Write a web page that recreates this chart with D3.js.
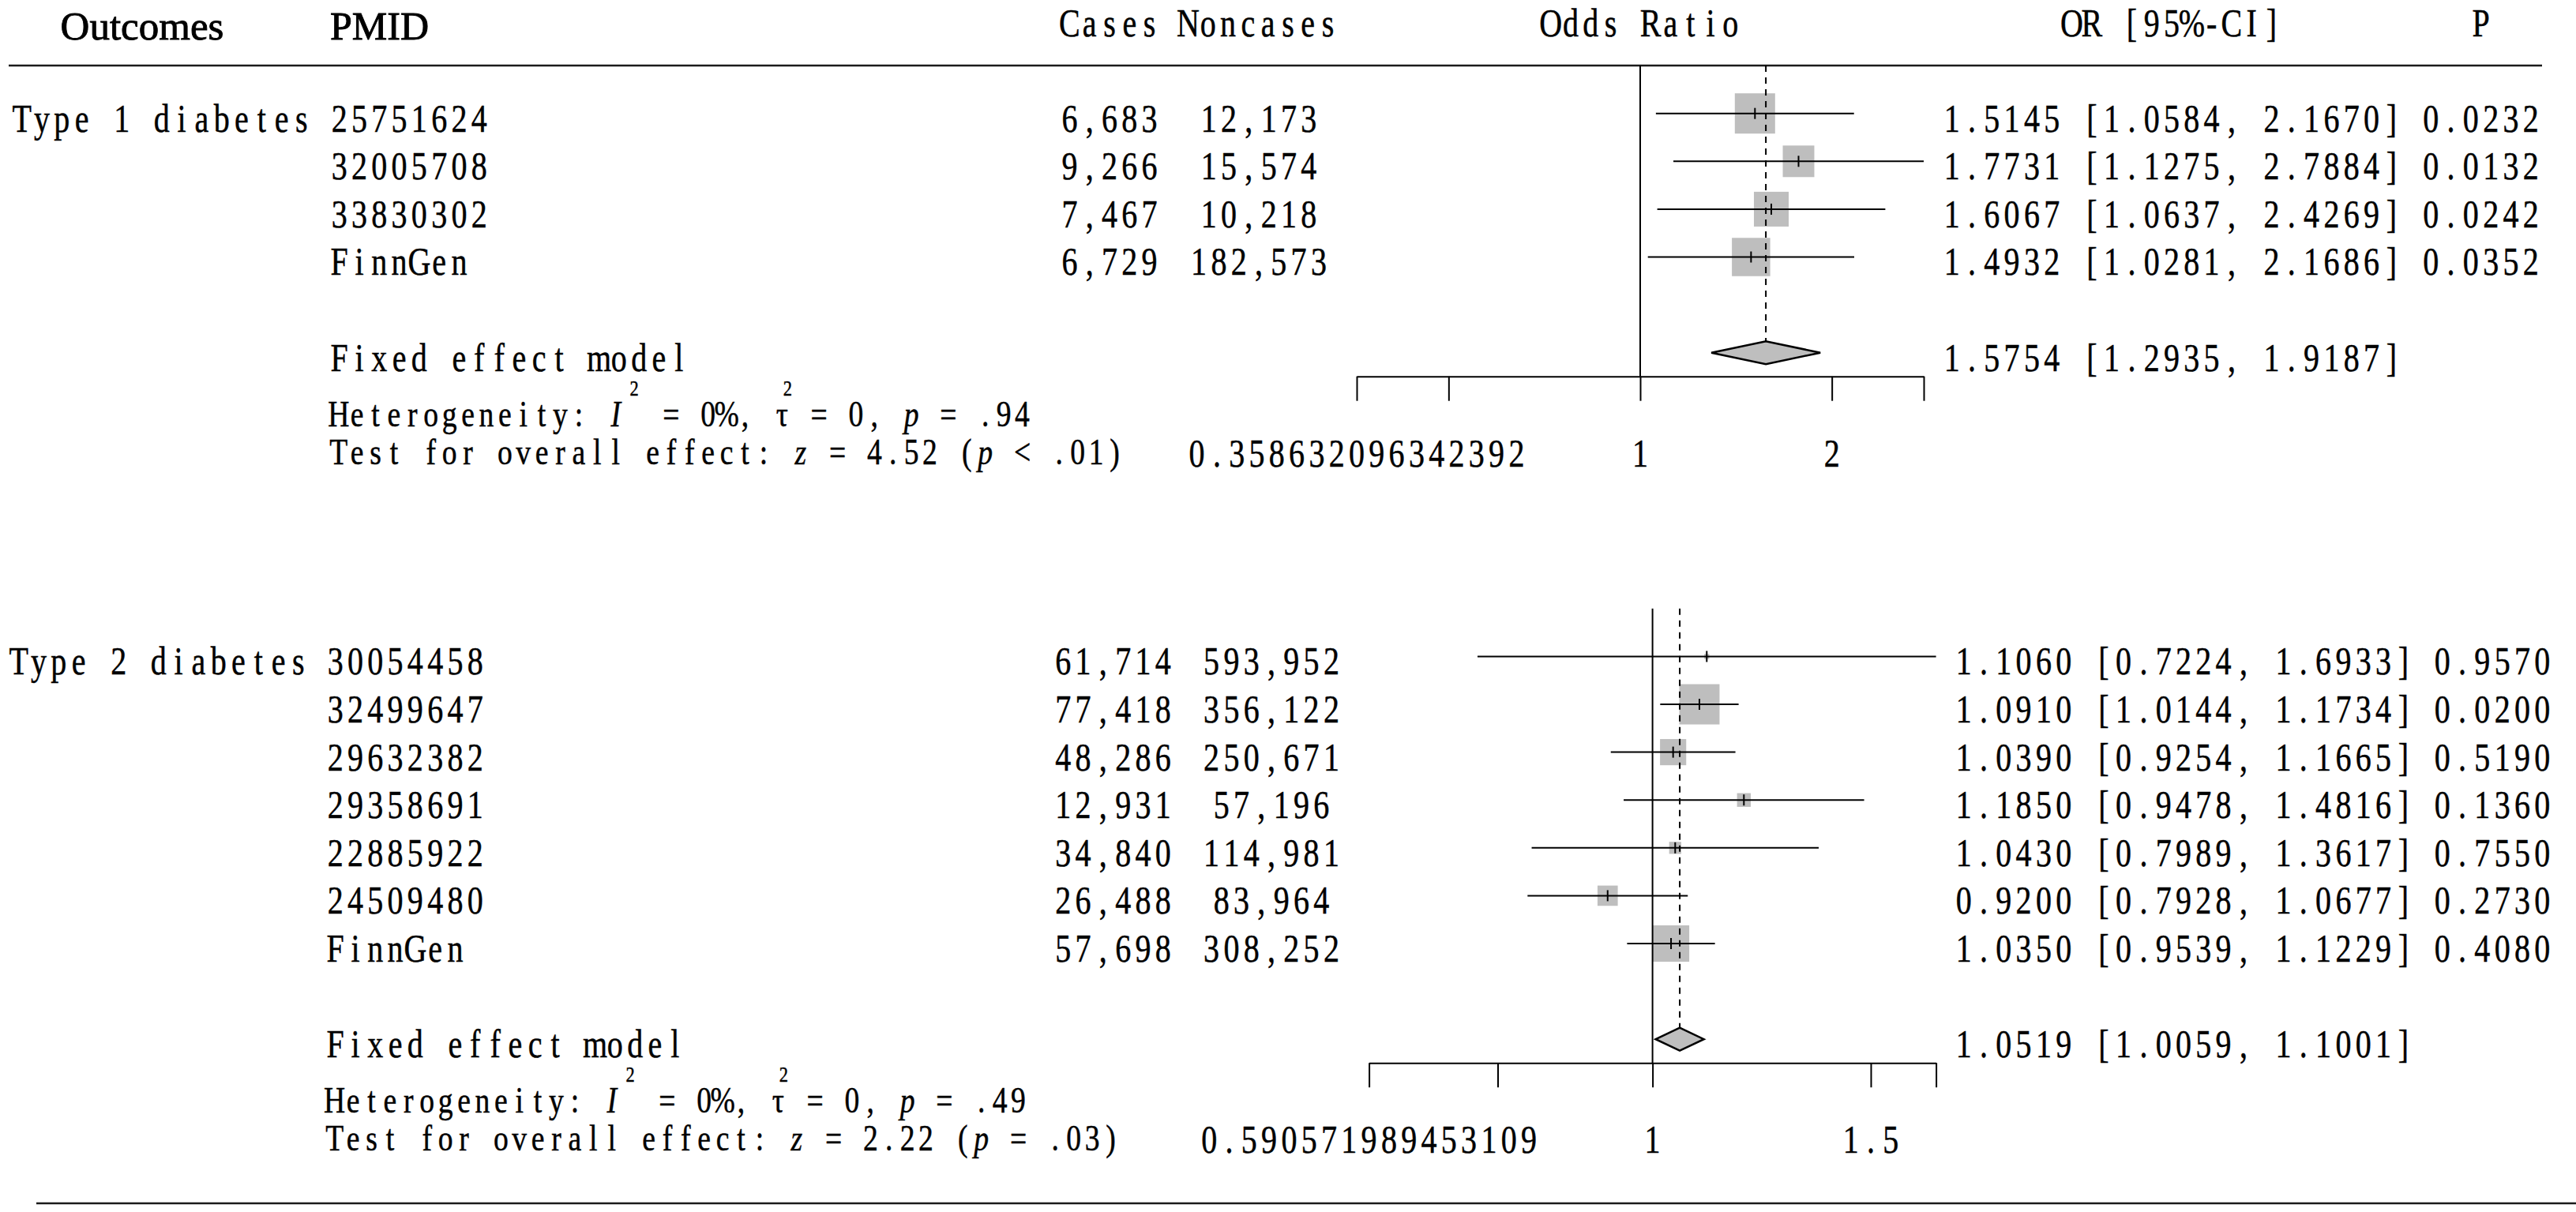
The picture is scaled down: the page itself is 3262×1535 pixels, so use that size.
<!DOCTYPE html>
<html>
<head>
<meta charset="utf-8">
<script src="https://cdn.jsdelivr.net/npm/d3@7"></script>
<style>
  html, body { margin: 0; padding: 0; background: #fff; }
  svg { display: block; }
  text { font-family: 'Liberation Serif', serif; fill: #000; stroke: #000; stroke-width: 0.5px; }
  text.head { stroke-width: 0.9px; }
</style>
</head>
<body>
<div id="chart"></div>
<script>
// ---- data: Type 1 diabetes ----
const t1Outcome = 'Type 1 diabetes'
const t1Study = ['25751624', '32005708', '33830302', 'FinnGen']
const t1Cases = [6683, 9266, 7467, 6729]
const t1Noncases = [12173, 15574, 10218, 182573]
const t1OR = [1.5145, 1.7731, 1.6067, 1.4932]
const t1Lower = [1.0584, 1.1275, 1.0637, 1.0281]
const t1Upper = [2.1670, 2.7884, 2.4269, 2.1686]
const t1P = [0.0232, 0.0132, 0.0242, 0.0352]
const t1Weight = [30.3, 18.6, 22.6, 27.4]
const t1Summary = [1.5754, 1.2935, 1.9187]
const t1Het = { i2: '0%', tau2: '0', p: '.94', z: '4.52', zp: '< .01' }
const t1Ticks = [0.358632096342392, 0.5, 1, 2, 2.7884]
const t1TickLabels = [0.358632096342392, 1, 2]

// ---- data: Type 2 diabetes ----
const t2Outcome = 'Type 2 diabetes'
const t2Study = ['30054458', '32499647', '29632382', '29358691', '22885922', '24509480', 'FinnGen']
const t2Cases = [61714, 77418, 48286, 12931, 34840, 26488, 57698]
const t2Noncases = [593952, 356122, 250671, 57196, 114981, 83964, 308252]
const t2OR = [1.1060, 1.0910, 1.0390, 1.1850, 1.0430, 0.9200, 1.0350]
const t2Lower = [0.7224, 1.0144, 0.9254, 0.9478, 0.7989, 0.7928, 0.9539]
const t2Upper = [1.6933, 1.1734, 1.1665, 1.4816, 1.3617, 1.0677, 1.1229]
const t2P = [0.9570, 0.0200, 0.5190, 0.1360, 0.7550, 0.2730, 0.4080]
const t2Weight = [0.6, 37.9, 16.0, 4.4, 3.4, 9.6, 31.0]
const t2Summary = [1.0519, 1.0059, 1.1001]
const t2Het = { i2: '0%', tau2: '0', p: '.49', z: '2.22', zp: '= .03' }
const t2Ticks = [0.590571989453109, 0.75, 1, 1.5, 1.6933]
const t2TickLabels = [0.590571989453109, 1, 1.5]

const headers = ['Cases', 'Noncases', 'Odds Ratio', 'OR [95%-CI]', 'P']

// ---- layout ----
const width = 3262
const height = 1535
const rowH = 60.6
const halfW = 359
const SX = 0.8 // horizontal squeeze of the glyphs
const big = { a: 25.3, size: 50 }
const small = { a: 23.4, size: 47 }

const fmt4 = d3.format('.4f')
const fmtN = d3.format(',')

const svg = d3.select('#chart').append('svg')
  .attr('width', width)
  .attr('height', height)
  .attr('viewBox', `0 0 ${width} ${height}`)

svg.append('rect').attr('width', width).attr('height', height).attr('fill', '#fff')

// monospaced-looking text: every character gets its own cell
function mono (g, segs, x, y, font, anchor = 'start') {
  if (typeof segs === 'string') segs = [{ t: segs }]
  const n = d3.sum(segs, s => (s.over != null ? 0 : s.t.length))
  const start = anchor === 'middle' ? x - n * font.a / 2 : x
  const text = g.append('text')
    .attr('transform', `scale(${SX},1)`)
    .attr('text-anchor', 'middle')
    .attr('font-size', font.size)
    .attr('xml:space', 'preserve')
    .style('white-space', 'pre')
  let slot = 0
  segs.forEach(s => {
    const base = s.over != null ? slot - 1 + s.over : slot
    const xs = Array.from(s.t, (c, i) => ((start + (base + i + 0.5) * font.a) / SX).toFixed(2))
    text.append('tspan')
      .attr('x', xs.join(' '))
      .attr('y', s.sup ? y - 39 : y)
      .attr('font-size', s.sup ? 28 : font.size)
      .attr('font-style', s.italic ? 'italic' : 'normal')
      .text(s.t)
    if (s.over == null) slot += s.t.length
  })
  return text
}

// header
const head = svg.append('g')
head.append('text').attr('class', 'head').attr('x', 180).attr('y', 50).attr('font-size', 51)
  .attr('text-anchor', 'middle').text('Outcomes')
head.append('text').attr('class', 'head').attr('x', 418).attr('y', 50).attr('font-size', 50).text('PMID')
const headX = [1405, 1593, 2077.5, 2750, 3141.5]
headers.forEach((h, i) => mono(head, h, headX[i], 46, big, 'middle'))

svg.append('line').attr('x1', 11).attr('x2', 3219).attr('y1', 83).attr('y2', 83)
  .attr('stroke', '#1a1a1a').attr('stroke-width', 2.5)
svg.append('line').attr('x1', 46).attr('x2', 3262).attr('y1', 1524).attr('y2', 1524)
  .attr('stroke', '#1a1a1a').attr('stroke-width', 2.5)

const panels = [
  {
    outcome: t1Outcome, study: t1Study, cases: t1Cases, noncases: t1Noncases,
    or: t1OR, lower: t1Lower, upper: t1Upper, p: t1P, weight: t1Weight,
    summary: t1Summary, het: t1Het, ticks: t1Ticks, tickLabels: t1TickLabels,
    y0: 143.7, outX: 15, studyX: 417, casesX: 1405, nonX: 1594, center: 2077, orX: 2750, pX: 3141.5
  },
  {
    outcome: t2Outcome, study: t2Study, cases: t2Cases, noncases: t2Noncases,
    or: t2OR, lower: t2Lower, upper: t2Upper, p: t2P, weight: t2Weight,
    summary: t2Summary, het: t2Het, ticks: t2Ticks, tickLabels: t2TickLabels,
    y0: 831.4, outX: 11, studyX: 412, casesX: 1409.5, nonX: 1610, center: 2092.6, orX: 2765, pX: 3156
  }
]

panels.forEach(pn => {
  const g = svg.append('g')
  const n = pn.study.length
  const rowY = i => pn.y0 + i * rowH
  const sumY = rowY(n + 1)
  const axisY = sumY + 30
  const refTop = rowY(-1)

  const x = d3.scaleLog()
    .domain([pn.ticks[0], pn.ticks[pn.ticks.length - 1]])
    .range([pn.center - halfW, pn.center + halfW])
  const box = d3.scaleSqrt().domain([0, d3.max(pn.weight)]).range([0, 51])

  // squares
  g.selectAll('rect.sq').data(pn.or).join('rect')
    .attr('class', 'sq')
    .attr('x', (d, i) => x(d) - box(pn.weight[i]) / 2)
    .attr('y', (d, i) => rowY(i) - box(pn.weight[i]) / 2)
    .attr('width', (d, i) => box(pn.weight[i]))
    .attr('height', (d, i) => box(pn.weight[i]))
    .attr('fill', '#bebebe')

  // reference line at 1 and dashed line at the pooled estimate
  g.append('line')
    .attr('x1', x(1)).attr('x2', x(1)).attr('y1', refTop).attr('y2', axisY)
    .attr('stroke', '#000').attr('stroke-width', 2)
  g.append('line')
    .attr('x1', x(pn.summary[0])).attr('x2', x(pn.summary[0]))
    .attr('y1', refTop).attr('y2', sumY - 14.5)
    .attr('stroke', '#000').attr('stroke-width', 2).attr('stroke-dasharray', '8,7')

  // confidence intervals
  g.selectAll('line.ci').data(pn.or).join('line')
    .attr('class', 'ci')
    .attr('x1', (d, i) => x(pn.lower[i])).attr('x2', (d, i) => x(pn.upper[i]))
    .attr('y1', (d, i) => rowY(i)).attr('y2', (d, i) => rowY(i))
    .attr('stroke', '#000').attr('stroke-width', 2)
  g.selectAll('line.pt').data(pn.or).join('line')
    .attr('class', 'pt')
    .attr('x1', d => x(d)).attr('x2', d => x(d))
    .attr('y1', (d, i) => rowY(i) - 7).attr('y2', (d, i) => rowY(i) + 7)
    .attr('stroke', '#000').attr('stroke-width', 2)

  // pooled diamond
  const [est, lo, hi] = pn.summary
  g.append('path')
    .attr('d', `M${x(lo)},${sumY}L${x(est)},${sumY - 14.5}L${x(hi)},${sumY}L${x(est)},${sumY + 14.5}Z`)
    .attr('fill', '#bebebe').attr('stroke', '#000').attr('stroke-width', 2.5)

  // axis
  const ax = g.append('g').attr('transform', `translate(0,${axisY})`)
    .call(d3.axisBottom(x).tickValues(pn.ticks).tickSize(31).tickSizeOuter(0).tickFormat(''))
  ax.select('.domain').attr('stroke', '#000').attr('stroke-width', 2)
  ax.selectAll('.tick line').attr('stroke', '#000').attr('stroke-width', 2)
  ax.selectAll('.tick text').remove()
  pn.tickLabels.forEach(v => mono(g, String(v), x(v), axisY + 114, big, 'middle'))

  // text columns
  mono(g, pn.outcome, pn.outX, rowY(0) + 23, big)
  pn.study.forEach((s, i) => {
    const ty = rowY(i) + 23
    mono(g, s, pn.studyX, ty, big)
    mono(g, fmtN(pn.cases[i]), pn.casesX, ty, big, 'middle')
    mono(g, fmtN(pn.noncases[i]), pn.nonX, ty, big, 'middle')
    mono(g, `${fmt4(pn.or[i])} [${fmt4(pn.lower[i])}, ${fmt4(pn.upper[i])}]`, pn.orX, ty, big, 'middle')
    mono(g, fmt4(pn.p[i]), pn.pX, ty, big, 'middle')
  })
  mono(g, 'Fixed effect model', pn.studyX, sumY + 23, big)
  mono(g, `${fmt4(est)} [${fmt4(lo)}, ${fmt4(hi)}]`, pn.orX, sumY + 23, big, 'middle')

  mono(g, [
    { t: 'Heterogeneity: ' },
    { t: 'I', italic: true },
    { t: '2', sup: true },
    { t: ` = ${pn.het.i2}, ` },
    { t: 'τ' },
    { t: '2', sup: true, over: 0.3 },
    { t: ` = ${pn.het.tau2}, ` },
    { t: 'p', italic: true },
    { t: ` = ${pn.het.p}` }
  ], pn.studyX, sumY + 93, small)

  mono(g, [
    { t: 'Test for overall effect: ' },
    { t: 'z', italic: true },
    { t: ` = ${pn.het.z} (` },
    { t: 'p', italic: true },
    { t: ` ${pn.het.zp})` }
  ], pn.studyX, sumY + 141, small)
})
</script>
</body>
</html>
